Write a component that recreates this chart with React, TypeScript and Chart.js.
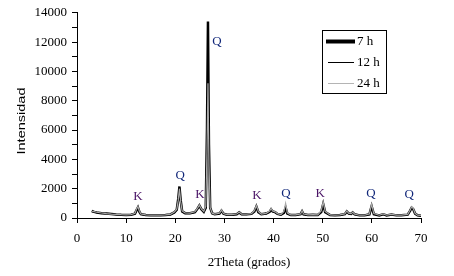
import React, { useEffect, useRef } from "react";
import { Chart, registerables } from "chart.js";

Chart.register(...registerables);

const twoTheta = [
  3, 3.5, 4, 5, 6, 7, 8, 9, 10, 11, 11.8, 12.1, 12.4, 12.7, 13, 14, 15, 16, 17, 18, 19, 19.8, 20.3, 20.6, 20.85, 21.1, 21.4, 22, 23, 24, 24.5, 24.9, 25.3, 25.8, 26.2, 26.45, 26.65, 26.85, 27.1, 27.5, 28, 29, 29.4, 29.8, 30.5, 31.5, 32.5, 33, 33.5, 34.5, 35.5, 36.1, 36.5, 36.9, 37.5, 38.5, 39.2, 39.5, 39.8, 40.3, 40.8, 41.5, 42.1, 42.45, 42.8, 43.5, 44.5, 45.5, 45.8, 46.1, 47, 48, 49, 49.7, 50.1, 50.5, 51.5, 52.5, 53.5, 54.5, 54.9, 55.3, 55.8, 56.1, 56.5, 57.5, 58.5, 59.5, 59.95, 60.4, 61.5, 62.3, 63, 64, 65, 66, 67.3, 67.8, 68.1, 68.4, 68.8, 69.3, 70,
];

const h7 = [
  480, 420, 380, 330, 300, 270, 240, 220, 210, 220, 300, 520, 720, 420, 260, 200, 180, 180, 190, 200, 240, 380, 560, 1300, 2150, 1200, 450, 330, 320, 400, 620, 850, 600, 420, 700, 6000, 13400, 5000, 700, 320, 260, 300, 500, 300, 220, 220, 260, 380, 250, 250, 280, 450, 780, 400, 260, 300, 420, 580, 450, 400, 280, 220, 350, 700, 300, 200, 200, 260, 450, 250, 200, 220, 200, 400, 950, 400, 200, 190, 200, 260, 450, 300, 280, 380, 250, 180, 180, 250, 800, 260, 180, 260, 180, 240, 180, 180, 230, 500, 700, 620, 300, 180, 160,
];

const h12 = [
  430, 400, 360, 310, 280, 250, 230, 210, 200, 210, 280, 480, 650, 400, 240, 190, 170, 170, 180, 190, 220, 340, 500, 1150, 1950, 1050, 400, 300, 300, 370, 580, 800, 560, 400, 650, 5500, 12700, 4600, 650, 300, 240, 280, 450, 280, 200, 200, 240, 350, 230, 230, 260, 420, 700, 380, 240, 280, 400, 550, 420, 380, 260, 200, 330, 650, 280, 190, 190, 250, 420, 240, 190, 210, 190, 380, 880, 380, 190, 180, 190, 250, 420, 280, 260, 350, 240, 170, 170, 240, 750, 250, 170, 250, 170, 230, 170, 170, 220, 480, 660, 580, 280, 170, 150,
];

const h24 = [
  460, 430, 390, 340, 300, 270, 250, 230, 220, 230, 320, 600, 780, 460, 270, 210, 190, 190, 200, 210, 250, 400, 600, 1200, 2000, 1100, 480, 340, 330, 420, 650, 880, 620, 450, 800, 4500, 9200, 3600, 700, 330, 270, 320, 550, 310, 230, 230, 270, 400, 260, 260, 300, 500, 850, 450, 270, 320, 480, 650, 480, 420, 300, 240, 450, 1000, 350, 210, 210, 280, 500, 270, 210, 230, 210, 500, 1100, 450, 210, 200, 210, 280, 480, 320, 300, 400, 260, 190, 190, 280, 950, 300, 190, 280, 190, 250, 190, 190, 250, 550, 760, 660, 320, 190, 170,
];

const seriesNames = ["7 h", "12 h", "24 h"];

const peakText = ["K", "Q", "K", "Q", "K", "Q", "K", "Q", "Q"];
const peakX = [12.4, 21.0, 25.0, 28.5, 36.6, 42.5, 49.5, 59.8, 67.6];
const peakY = [1430, 2925, 1565, 12040, 1500, 1700, 1700, 1700, 1630];

const yTitle = "Intensidad";
const xTitle = "2Theta (grados)";

const SERIF = '"Liberation Serif", "Times New Roman", serif';

export default function App() {
  const ref = useRef<HTMLCanvasElement | null>(null);

  useEffect(() => {
    const canvas = ref.current;
    if (!canvas) return;

    const toPts = (ys: number[]) => twoTheta.map((x, i) => ({ x, y: ys[i] }));

    const overlay = {
      id: "overlay",
      afterDraw(chart: any) {
        const { ctx, chartArea, scales } = chart;
        const xs = scales.x;
        const ys = scales.y;
        ctx.save();
        // peak labels
        ctx.font = `13px ${SERIF}`;
        ctx.textAlign = "center";
        ctx.textBaseline = "middle";
        peakText.forEach((t, i) => {
          ctx.fillStyle = t === "K" ? "#4a1466" : "#12287a";
          ctx.fillText(t, xs.getPixelForValue(peakX[i]), ys.getPixelForValue(peakY[i]));
        });
        // x title
        ctx.fillStyle = "#000";
        ctx.font = `13px ${SERIF}`;
        ctx.fillText(xTitle, (chartArea.left + chartArea.right) / 2, 263);
        // y title (stretched)
        ctx.save();
        ctx.translate(21.5, 121);
        ctx.rotate(-Math.PI / 2);
        ctx.font = '11px "Liberation Sans", Arial, sans-serif';
        const w = ctx.measureText(yTitle).width;
        ctx.scale(67 / w, 1);
        ctx.fillText(yTitle, 0, 0);
        ctx.restore();
        // legend
        const bx = chartArea.left + 245;
        const by = 30;
        ctx.strokeStyle = "#000";
        ctx.lineWidth = 1;
        ctx.strokeRect(bx + 0.5, by + 0.5, 64, 63);
        const rows = [
          { y: by + 11, color: "#000", width: 4, x0: bx + 4, x1: bx + 33 },
          { y: by + 32, color: "#000", width: 1, x0: bx + 6, x1: bx + 32 },
          { y: by + 53, color: "#b4b4b4", width: 1, x0: bx + 6, x1: bx + 32 },
        ];
        rows.forEach((r, i) => {
          ctx.beginPath();
          ctx.strokeStyle = r.color;
          ctx.lineWidth = r.width;
          ctx.moveTo(r.x0, r.y + 0.5);
          ctx.lineTo(r.x1, r.y + 0.5);
          ctx.stroke();
          ctx.fillStyle = "#000";
          ctx.textAlign = "left";
          ctx.font = `13px ${SERIF}`;
          ctx.fillText(seriesNames[i], bx + 35, r.y + 1);
        });
        ctx.restore();
      },
    };

    const chart = new Chart(canvas, {
      type: "line",
      data: {
        datasets: [
          {
            label: seriesNames[2],
            data: toPts(h24),
            borderColor: "#a8a8a8",
            borderWidth: 1.2,
            pointRadius: 0,
            tension: 0,
          },
          {
            label: seriesNames[1],
            data: toPts(h12),
            borderColor: "#000",
            borderWidth: 1,
            pointRadius: 0,
            tension: 0,
          },
          {
            label: seriesNames[0],
            data: toPts(h7),
            borderColor: "#000",
            borderWidth: 2.5,
            pointRadius: 0,
            tension: 0,
          },
        ],
      },
      options: {
        animation: false,
        responsive: false,
        events: [],
        layout: { padding: { left: 0, top: 12, right: 33, bottom: 0 } },
        plugins: {
          legend: { display: false },
          tooltip: { enabled: false },
        },
        scales: {
          x: {
            type: "linear",
            min: 0,
            max: 70,
            afterFit: (s: any) => {
              s.height = 58;
            },
            ticks: {
              stepSize: 10,
              color: "#000",
              font: { family: SERIF, size: 13 },
              padding: 8,
              maxRotation: 0,
            },
            grid: {
              display: true,
              drawOnChartArea: false,
              drawTicks: true,
              tickLength: 5,
              color: "#000",
            },
            border: { display: true, color: "#000", width: 1 },
          },
          y: {
            type: "linear",
            min: 0,
            max: 14000,
            afterFit: (s: any) => {
              s.width = 77;
            },
            ticks: {
              stepSize: 1000,
              autoSkip: false,
              color: "#000",
              font: { family: SERIF, size: 13 },
              padding: 5,
              callback: (v: any) => (Number(v) % 2000 === 0 ? String(v) : ""),
            },
            grid: {
              display: true,
              drawOnChartArea: false,
              drawTicks: true,
              tickLength: 5,
              color: "#000",
            },
            border: { display: true, color: "#000", width: 1 },
          },
        },
      },
      plugins: [overlay],
    });

    return () => chart.destroy();
  }, []);

  return (
    <div style={{ position: "absolute", left: 0, top: 0, width: 454, height: 276, background: "#fff" }}>
      <canvas ref={ref} width={454} height={276} />
    </div>
  );
}
